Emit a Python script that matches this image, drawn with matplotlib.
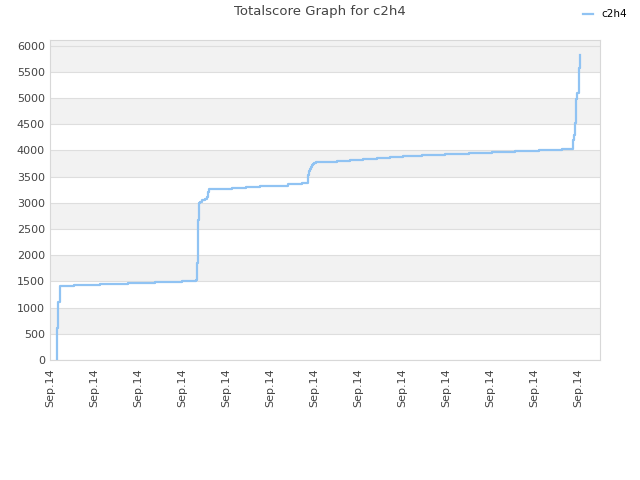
import matplotlib.pyplot as plt

# time position (arbitrary units along the day) and total score
times = [7, 7, 7.5, 8.5, 10, 24, 50, 78, 105, 132, 146, 146.7, 147.7, 148.7,
         150, 152, 155, 157, 158, 159, 168, 182, 196, 210, 224, 238, 252,
         258.3, 259, 260, 261, 262, 263, 264, 266, 272.7, 286.7, 300, 313,
         327, 340, 353, 371.7, 395, 419, 441.7, 465, 489, 511.7, 522.3,
         523.7, 525, 526, 527, 528.3, 528.7, 529.7, 530]
scores = [0, 230, 610, 1100, 1420, 1440, 1455, 1470, 1485, 1500, 1520, 1850,
          2670, 3000, 3020, 3050, 3080, 3110, 3200, 3260, 3270, 3285, 3300,
          3315, 3330, 3350, 3375, 3530, 3600, 3650, 3690, 3720, 3750, 3765,
          3770, 3785, 3804, 3823, 3842, 3861, 3880, 3899, 3918, 3937, 3956,
          3975, 3995, 4014, 4033, 4198, 4294, 4517, 4975, 5089, 5153, 5567,
          5821, 5821]
tick_pos = [44 * i for i in range(13)]
tick_labels = ["Sep.14"] * 13
y_ticks = list(range(0, 6001, 500))

fig = plt.figure(figsize=(6.4, 4.8), dpi=100)
ax = fig.add_axes([0.078, 0.25, 0.86, 0.667])

ax.set_xlim(0, 550)
ax.set_ylim(0, 6110)

# alternating bands
for lo in range(500, 6000, 1000):
    ax.axhspan(lo, lo + 500, color="#f2f2f2", zorder=0, lw=0)
ax.axhspan(6000, 6110, color="#f2f2f2", zorder=0, lw=0)
for y in y_ticks:
    ax.axhline(y, color="#dedede", lw=0.8, zorder=1)

ax.plot(times, scores, drawstyle="steps-post", color="#90c3f3", lw=1.6,
        zorder=3, label="c2h4")

ax.set_yticks(y_ticks)
ax.set_xticks(tick_pos)
ax.set_xticklabels(tick_labels, rotation=90)
ax.tick_params(axis="both", length=0, labelsize=8, labelcolor="#444444")
ax.tick_params(axis="x", pad=6)
for s in ax.spines.values():
    s.set_color("#d8d8d8")

fig.text(0.5, 0.975, "Totalscore Graph for c2h4", ha="center", va="center",
         fontsize=9.5, color="#444444")
fig.legend(loc="upper right", bbox_to_anchor=(0.995, 1.0), frameon=False,
           fontsize=7.5, handlelength=1.0, handletextpad=0.8)

fig.savefig("out.png")
